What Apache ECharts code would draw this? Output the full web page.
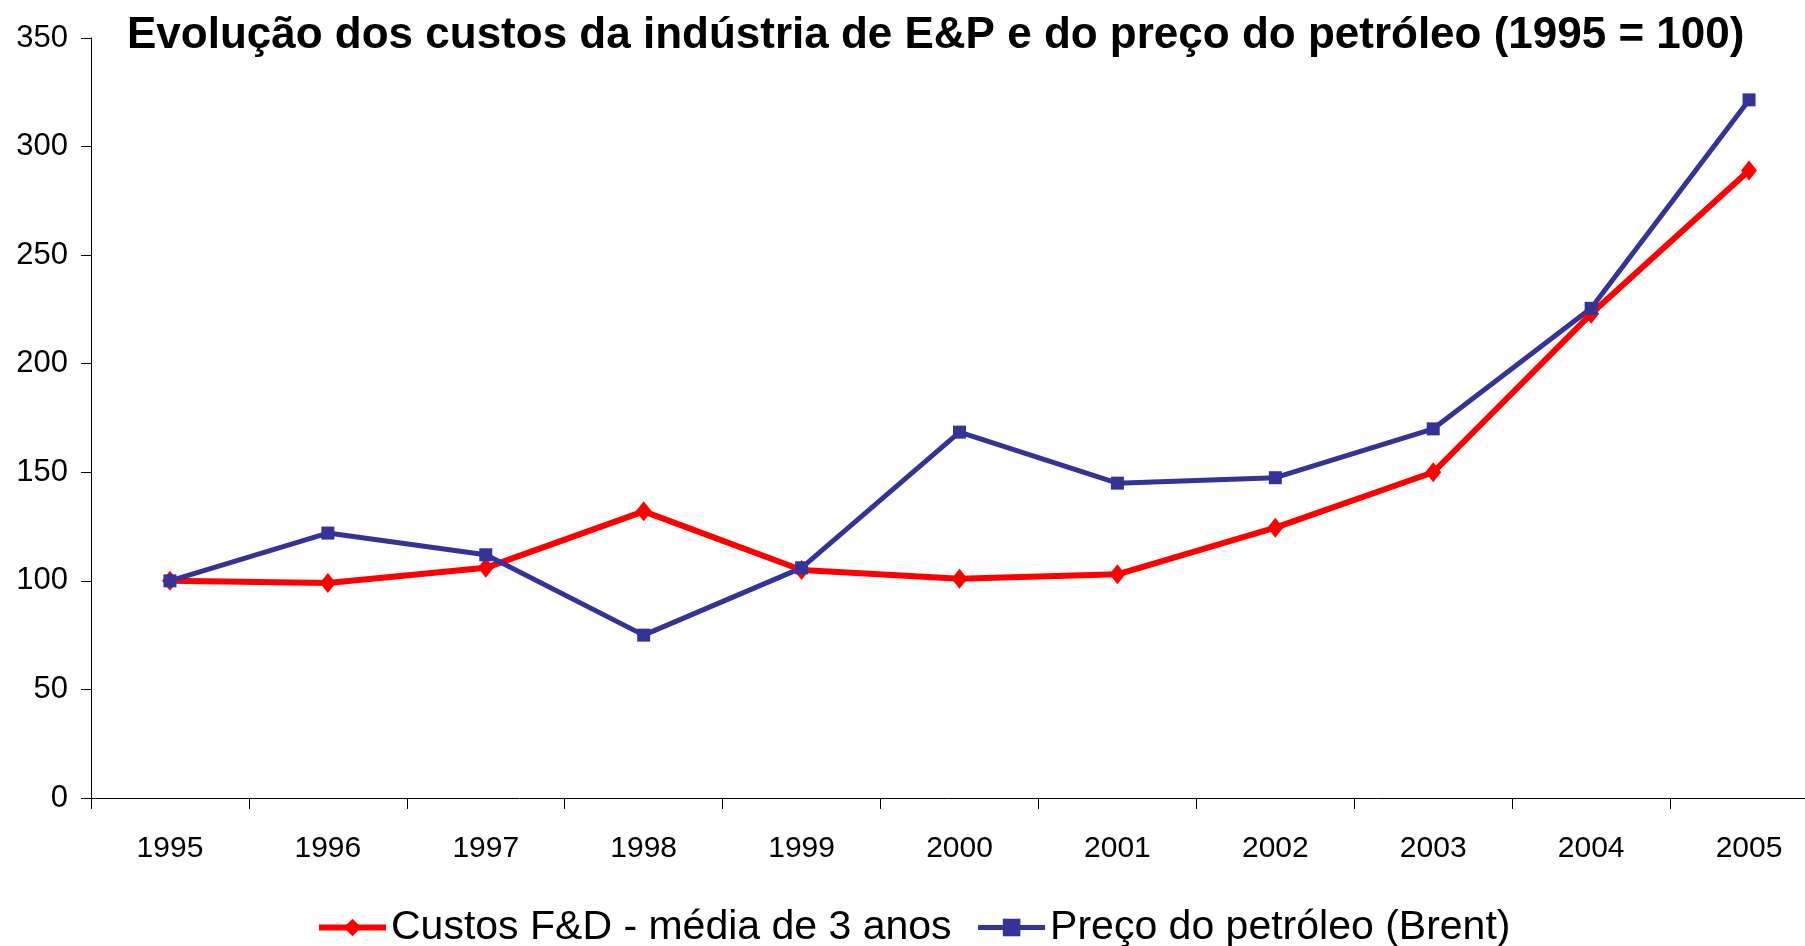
<!DOCTYPE html>
<html>
<head>
    <meta charset="utf-8">
    <title>Evolução dos custos da indústria de E&P</title>
    <script src="https://cdn.jsdelivr.net/npm/echarts@6/dist/echarts.min.js"></script>
    <style>
        html, body { margin: 0; padding: 0; background: #fff; }
        #main { width: 1805px; height: 946px; }
    </style>
</head>
<body>
<div id="main"></div>
<script>
    // anos (eixo x)
    var anos = ['1995', '1996', '1997', '1998', '1999', '2000', '2001', '2002', '2003', '2004', '2005'];
    // custos F&D - média de 3 anos (1995 = 100)
    var custosFD = [100, 99, 106, 132, 105, 101, 103, 124.5, 150, 223, 289];
    // preço do petróleo Brent (1995 = 100)
    var precoBrent = [100, 122, 112, 75, 106, 168.5, 145, 147.5, 170, 225.5, 321.5];

    var chart = echarts.init(document.getElementById('main'));
    var fonte = 'Liberation Sans, Arial, sans-serif';
    var vermelho = '#ff0000';
    var azul = '#333399';

    var option = {
        backgroundColor: '#fff',
        animation: false,
        title: {
            text: 'Evolução dos custos da indústria de E&P e do preço do petróleo (1995 = 100)',
            left: 122,
            top: 9,
            textStyle: {
                color: '#000',
                fontSize: 44,
                fontWeight: 'bold',
                fontFamily: fonte
            }
        },
        legend: {
            left: 316,
            top: 907,
            padding: 0,
            itemWidth: 67,
            itemHeight: 22,
            itemGap: 24,
            textStyle: {
                color: '#000',
                fontSize: 41,
                fontFamily: fonte
            },
            data: [
                {
                    name: 'Custos F&D - média de 3 anos',
                    lineStyle: { color: vermelho, width: 6 },
                    itemStyle: { color: vermelho }
                },
                {
                    name: 'Preço do petróleo (Brent)',
                    lineStyle: { color: azul, width: 5 },
                    itemStyle: { color: azul }
                }
            ]
        },
        grid: {
            left: 91,
            top: 38,
            width: 1737,
            height: 760,
            outerBoundsMode: 'none',
            containLabel: false
        },
        xAxis: {
            type: 'category',
            data: anos,
            boundaryGap: true,
            axisLine: { lineStyle: { color: '#000', width: 1 } },
            axisTick: { show: true, length: 11, inside: false, lineStyle: { color: '#000' } },
            axisLabel: {
                color: '#000',
                fontSize: 30,
                fontFamily: fonte,
                margin: 36
            },
            splitLine: { show: false }
        },
        yAxis: {
            type: 'value',
            min: 0,
            max: 350,
            interval: 50,
            axisLine: { show: true, lineStyle: { color: '#000', width: 1 } },
            axisTick: { show: true, length: 10, lineStyle: { color: '#000' } },
            axisLabel: {
                color: '#000',
                fontSize: 31,
                fontFamily: fonte,
                margin: 23
            },
            splitLine: { show: false }
        },
        series: [
            {
                name: 'Custos F&D - média de 3 anos',
                type: 'line',
                data: custosFD,
                symbol: 'diamond',
                symbolSize: [16, 20],
                lineStyle: { color: vermelho, width: 6 },
                itemStyle: { color: vermelho }
            },
            {
                name: 'Preço do petróleo (Brent)',
                type: 'line',
                data: precoBrent,
                symbol: 'rect',
                symbolSize: 13,
                lineStyle: { color: azul, width: 5 },
                itemStyle: { color: azul }
            }
        ]
    };
    chart.setOption(option);
</script>
</body>
</html>
